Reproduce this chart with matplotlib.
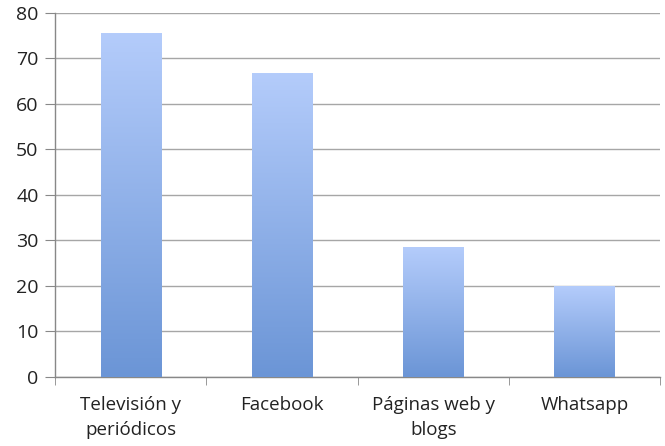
import numpy as np
import matplotlib.pyplot as plt
from matplotlib.colors import LinearSegmentedColormap

# datos
categorias = ["Televisión y\nperiódicos", "Facebook", "Páginas web y\nblogs", "Whatsapp"]
valores = [75.5, 66.8, 28.5, 19.9]
yticks = [0, 10, 20, 30, 40, 50, 60, 70, 80]

plt.rcParams['font.family'] = ['Open Sans', 'DejaVu Sans']

fig = plt.figure(figsize=(6.65, 4.46), dpi=100)
ax = fig.add_axes([0.083, 0.155, 0.91, 0.816])

x = np.arange(len(categorias))
barras = ax.bar(x, valores, width=0.4, color='none', edgecolor='none', zorder=3)

# degradado azul dentro de cada barra
cmap = LinearSegmentedColormap.from_list('azul', ['#6b95d6', '#b4ccfb'])
grad = np.linspace(0, 1, 256).reshape(-1, 1)
for b in barras:
    x0, y0 = b.get_x(), b.get_y()
    w, h = b.get_width(), b.get_height()
    im = ax.imshow(grad, cmap=cmap, origin='lower', aspect='auto',
                   extent=[x0, x0 + w, y0, y0 + h], zorder=3)
    im.set_clip_path(b)

ax.set_xlim(-0.5, len(categorias) - 0.5)
ax.set_ylim(0, 80)
ax.set_yticks(yticks)
ax.set_xticks(x)
ax.set_xticklabels(categorias, fontsize=13.5, color='#222222', linespacing=1.45)
ax.tick_params(axis='x', length=0, pad=14)
ax.set_xticks(np.arange(-0.5, len(categorias)), minor=True)
ax.tick_params(axis='x', which='minor', length=6, color='#888888', direction='out')
ax.tick_params(axis='y', length=7, color='#888888', labelsize=14, labelcolor='#222222', pad=5)

ax.grid(axis='y', color='#a6a6a6', linewidth=1, zorder=0)
ax.set_axisbelow(True)
for s in ['top', 'right']:
    ax.spines[s].set_visible(False)
for s in ['left', 'bottom']:
    ax.spines[s].set_color('#888888')
    ax.spines[s].set_linewidth(1)

fig.savefig('out.png', dpi=100)
